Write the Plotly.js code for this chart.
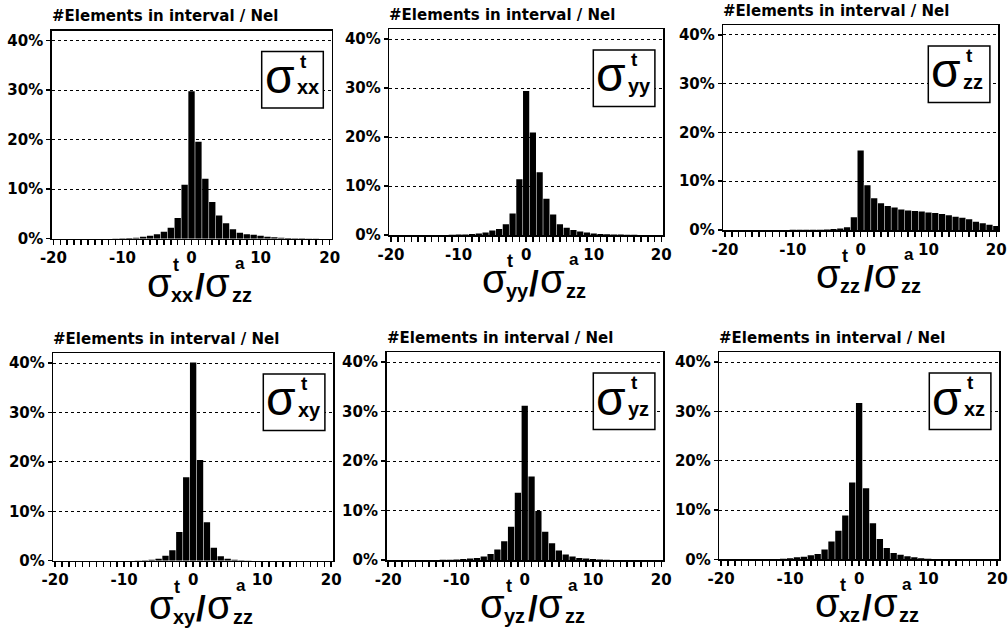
<!DOCTYPE html>
<html>
<head>
<meta charset="utf-8">
<script src="https://cdn.plot.ly/plotly-3.0.1.min.js"></script>
<style>html,body{margin:0;padding:0;background:#fff;}#chart{width:1008px;height:635px;}</style>
</head>
<body>
<div id="chart"></div>
<script>
// ---- data (percent of elements per unit-wide interval) ----
const bins = [-20,-19,-18,-17,-16,-15,-14,-13,-12,-11,-10,-9,-8,-7,-6,-5,-4,-3,-2,-1,0,1,2,3,4,5,6,7,8,9,10,11,12,13,14,15,16,17,18,19,20];
const sxx = [0,0,0,0,0,0,0,0,0,0.05,0.1,0.15,0.2,0.4,0.6,0.9,1.4,2.2,4.2,10.9,29.8,19.6,12.1,7.4,4.7,3.1,1.9,1.2,0.9,0.8,0.6,0.4,0.3,0.2,0.15,0.1,0.1,0.05,0.05,0,0];
const syy = [0,0,0,0,0,0,0,0,0,0.05,0.1,0.1,0.2,0.3,0.5,0.9,1.2,2.2,4.4,11.4,29.4,20.9,12.8,7.4,4.2,2.2,1.5,1.0,0.7,0.5,0.3,0.2,0.15,0.1,0.1,0.05,0.05,0,0,0,0];
const szz = [0,0,0,0,0,0,0,0,0,0,0.05,0.05,0.05,0.05,0.05,0.1,0.2,0.3,0.55,2.6,16.3,9.2,6.5,5.5,4.9,4.6,4.2,4.0,3.9,3.8,3.6,3.5,3.3,3.0,2.7,2.5,2.2,1.7,1.4,1.1,0.8];
const sxy = [0,0,0,0,0,0,0,0,0,0,0,0,0.05,0.1,0.2,0.4,1.0,2.1,5.8,16.9,40.1,20.4,7.8,2.6,0.9,0.4,0.2,0.1,0.05,0,0,0,0,0,0,0,0,0,0,0,0];
const syz = [0,0,0,0,0,0,0,0,0.05,0.05,0.1,0.2,0.3,0.4,0.7,1.2,2.1,3.8,6.7,13.6,31.2,16.9,9.9,5.7,3.4,1.9,1.1,0.7,0.4,0.3,0.2,0.1,0.05,0,0,0,0,0,0,0,0];
const sxz = [0,0,0,0,0,0,0,0,0.05,0.1,0.2,0.4,0.5,0.8,1.1,2.0,3.6,5.8,8.9,15.6,31.7,14.4,7.3,4.1,2.3,1.3,0.9,0.6,0.4,0.2,0.1,0.05,0.05,0,0,0,0,0,0,0,0];
const seriesList = [sxx, syy, szz, sxy, syz, sxz];
const components = ['xx','yy','zz','xy','yz','xz'];
const yTickVals = [0,10,20,30,40];
const yTickText = ['0%','10%','20%','30%','40%'];
const xTickVals = [-20,-10,0,10,20];
const xTickText = ['-20','-10','0','10','20'];
const headerText = '#Elements in interval / Nel';
const denomSub = 'zz';
const sigma = 'σ';

// ---- layout geometry (pixels) ----
const W = 1008, H = 635;
const boxes = [
  {l:51.7, r:331.7, t:30.8, b:238.7},
  {l:389.3, r:663.3, t:29.2, b:235},
  {l:723.3, r:998.3, t:25.2, b:230},
  {l:53.3, r:333.3, t:353.2, b:560.7},
  {l:386.5, r:663.3, t:352.3, b:560},
  {l:719.3, r:999.3, t:352.3, b:559.3}
];
const px = v => v / W;
const py = v => 1 - v / H;

const traces = [];
const layout = {
  width: W, height: H,
  margin: {l:0, r:0, t:0, b:0},
  paper_bgcolor: '#fff', plot_bgcolor: '#fff',
  showlegend: false,
  bargap: 0.08,
  annotations: [], shapes: []
};

const tickFont = {family: 'DejaVu Sans', size: 15, color: '#000', weight: 'bold'};
const sigFont = s => ({family: 'Liberation Sans', size: s, color: '#000'});
const boldFont = s => ({family: 'Liberation Sans', size: s, color: '#000', weight: 'bold'});

function ann(x, y, text, font, xanchor, yanchor) {
  layout.annotations.push({
    xref: 'paper', yref: 'paper', x: px(x), y: py(y), text: text,
    showarrow: false, font: font, xanchor: xanchor || 'center', yanchor: yanchor || 'middle',
    borderpad: 0
  });
}

boxes.forEach((bx, i) => {
  const n = i + 1;
  const xa = n === 1 ? 'xaxis' : 'xaxis' + n;
  const ya = n === 1 ? 'yaxis' : 'yaxis' + n;
  const xr = n === 1 ? 'x' : 'x' + n;
  const yr = n === 1 ? 'y' : 'y' + n;
  traces.push({
    type: 'bar', x: bins, y: seriesList[i], xaxis: xr, yaxis: yr,
    marker: {color: '#000', line: {width: 0}}, hoverinfo: 'skip'
  });
  layout[xa] = {
    domain: [px(bx.l), px(bx.r)], anchor: yr, range: [-20.25, 20.3],
    tickvals: xTickVals, ticktext: xTickText, tickfont: tickFont,
    ticks: 'outside', ticklen: 5, tickwidth: 1.5, tickcolor: '#000',
    minor: {dtick: 1, ticks: 'outside', ticklen: 5, tickwidth: 1.5, tickcolor: '#000', showgrid: false},
    showline: true, linecolor: '#000', linewidth: 1.5, mirror: true,
    showgrid: false, zeroline: false, fixedrange: true
  };
  layout[ya] = {
    domain: [py(bx.b), py(bx.t)], anchor: xr, range: [0, 42],
    tickvals: yTickVals, ticktext: yTickText, tickfont: tickFont,
    ticks: 'outside', ticklen: 4, tickwidth: 1.5, tickcolor: '#000',
    showline: true, linecolor: '#000', linewidth: 1.5, mirror: true,
    showgrid: true, gridcolor: '#000', gridwidth: 1, griddash: 'dot',
    zeroline: false, fixedrange: true
  };
  // header
  ann(bx.l - 1, bx.t - 4.5, headerText, {family: 'DejaVu Sans', size: 15, color: '#000', weight: 'bold'}, 'left', 'bottom');
  // component box
  const bl = bx.r - 70, br = bx.r - 8.4, bt = bx.t + 20.7, bb = bx.t + 77.3;
  layout.shapes.push({type: 'rect', xref: 'paper', yref: 'paper', x0: px(bl), x1: px(br), y0: py(bb), y1: py(bt),
    line: {color: '#000', width: 1.5}, fillcolor: '#fff', layer: 'above'});
  ann(bl + 18, bt + 25, sigma, sigFont(48));
  ann(bl + 37, bt + 10, 't', boldFont(19), 'left');
  ann(bl + 34, bt + 36, components[i], boldFont(20), 'left');
  // x-axis title
  const cx = (bx.l + bx.r) / 2;
  const b = bx.b;
  ann(cx - 32, b + 44, sigma, sigFont(40));
  ann(cx - 20, b + 26, 't', boldFont(18), 'left');
  ann(cx - 21.5, b + 56, components[i], boldFont(20), 'left');
  ann(cx + 8, b + 48, '/', boldFont(35));
  ann(cx + 26, b + 44, sigma, sigFont(40));
  ann(cx + 42, b + 25, 'a', boldFont(17), 'left');
  ann(cx + 39, b + 56, denomSub, boldFont(20), 'left');
});

Plotly.newPlot('chart', traces, layout, {staticPlot: true, displayModeBar: false});
</script>
</body>
</html>
